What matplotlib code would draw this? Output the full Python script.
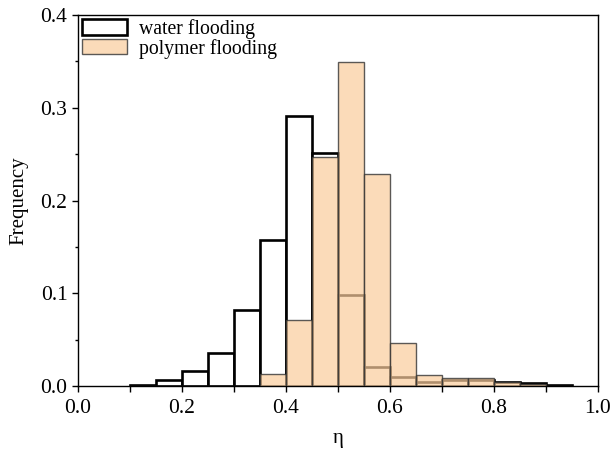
import matplotlib
matplotlib.use("Agg")
import matplotlib.pyplot as plt
from matplotlib.ticker import MultipleLocator, FormatStrFormatter
from matplotlib.patches import Patch

plt.rcParams['font.family'] = ['Liberation Serif', 'DejaVu Serif']

bin_left = [0.10, 0.15, 0.20, 0.25, 0.30, 0.35, 0.40, 0.45, 0.50, 0.55,
            0.60, 0.65, 0.70, 0.75, 0.80, 0.85, 0.90]
bin_width = 0.05
water = [0.001, 0.0065, 0.016, 0.036, 0.082, 0.157, 0.291, 0.251, 0.098, 0.021,
         0.010, 0.004, 0.007, 0.007, 0.004, 0.003, 0.001]
polymer = [0.0, 0.0, 0.0, 0.0, 0.0, 0.0126, 0.071, 0.247, 0.349, 0.229,
           0.0467, 0.0122, 0.0083, 0.0083, 0.0047, 0.002, 0.0005]

fig = plt.figure(figsize=(6.13, 4.55), dpi=100)
ax = fig.add_axes([0.127, 0.1516, 0.8485, 0.8154])

poly_face = (0.98, 0.80, 0.61, 0.7)
poly_edge = (0.2, 0.2, 0.2, 0.8)

ax.bar(bin_left, water, width=bin_width, align='edge', facecolor='white',
       edgecolor='black', linewidth=1.9, zorder=2)
ax.bar(bin_left, polymer, width=bin_width, align='edge',
       facecolor=poly_face, edgecolor=poly_edge, linewidth=1.0, zorder=3)

ax.set_xlim(0, 1.0)
ax.set_ylim(0, 0.4)
ax.xaxis.set_major_locator(MultipleLocator(0.2))
ax.xaxis.set_minor_locator(MultipleLocator(0.1))
ax.yaxis.set_major_locator(MultipleLocator(0.1))
ax.yaxis.set_minor_locator(MultipleLocator(0.05))
ax.xaxis.set_major_formatter(FormatStrFormatter('%.1f'))
ax.yaxis.set_major_formatter(FormatStrFormatter('%.1f'))
ax.tick_params(which='both', direction='out', top=False, right=False, labelsize=15.5, width=1)
ax.tick_params(axis='x', which='both', length=4, pad=5)
ax.tick_params(axis='y', which='major', length=4.5, pad=3)
ax.tick_params(axis='y', which='minor', length=2.2)
for s in ax.spines.values():
    s.set_linewidth(1.0)

ax.set_xlabel('η', fontsize=15, labelpad=8)
ax.set_ylabel('Frequency', fontsize=15, labelpad=9)

handles = [Patch(facecolor='white', edgecolor='black', linewidth=1.9, label='water flooding'),
           Patch(facecolor=poly_face, edgecolor=poly_edge, linewidth=1.0,
                 label='polymer flooding')]
ax.legend(handles=handles, loc='upper left', frameon=False, fontsize=14.2,
          handlelength=2.3, handleheight=0.8, borderaxespad=0.1, borderpad=0.1,
          labelspacing=0.0, handletextpad=0.6)

fig.savefig('out.png', dpi=100)
